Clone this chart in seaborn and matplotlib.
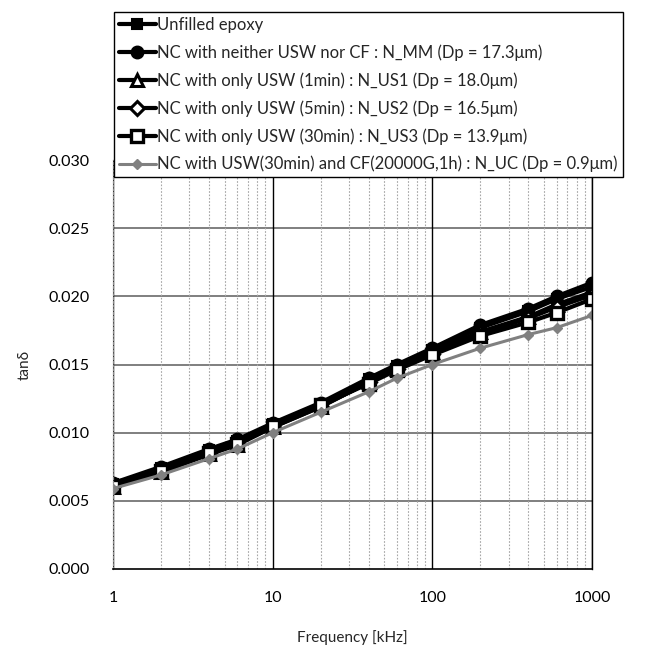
import matplotlib
matplotlib.use("Agg")
import matplotlib.pyplot as plt
import seaborn as sns
from matplotlib.ticker import FixedLocator, LogLocator, NullFormatter, FuncFormatter

sns.set_theme(style="white")
plt.rcParams["font.family"] = ["Lato", "DejaVu Sans"]

# Frequency sweep [kHz]
freq = [1, 2, 4, 6, 10, 20, 40, 60, 100, 200, 400, 600, 1000]

# Dielectric loss tangent for each sample
unfilled_epoxy = [0.0062, 0.0074, 0.0087, 0.0094, 0.0106, 0.0121, 0.0139, 0.0149, 0.0161, 0.0177, 0.0189, 0.0198, 0.0207]
n_mm = [0.0063, 0.0075, 0.0088, 0.0095, 0.0107, 0.0122, 0.0140, 0.0150, 0.0162, 0.0179, 0.0191, 0.0200, 0.0210]
n_us1 = [0.0060, 0.0071, 0.0084, 0.0091, 0.0104, 0.0119, 0.0137, 0.0147, 0.0159, 0.0174, 0.0185, 0.0194, 0.0203]
n_us2 = [0.0061, 0.0072, 0.0085, 0.0092, 0.0104, 0.0119, 0.0137, 0.0147, 0.0158, 0.0173, 0.0184, 0.0192, 0.0201]
n_us3 = [0.0061, 0.0072, 0.0085, 0.0092, 0.0105, 0.0120, 0.0136, 0.0146, 0.0157, 0.0171, 0.0181, 0.0188, 0.0198]
n_uc = [0.0059, 0.0069, 0.0081, 0.0088, 0.0100, 0.0115, 0.0130, 0.0140, 0.0150, 0.0162, 0.0172, 0.0177, 0.0186]

labels = [
    "Unfilled epoxy",
    "NC with neither USW nor CF : N_MM (Dp = 17.3\u03bcm)",
    "NC with only USW (1min) : N_US1 (Dp = 18.0\u03bcm)",
    "NC with only USW (5min) : N_US2 (Dp = 16.5\u03bcm)",
    "NC with only USW (30min) : N_US3 (Dp = 13.9\u03bcm)",
    "NC with USW(30min) and CF(20000G,1h) : N_UC (Dp = 0.9\u03bcm)",
]
y_ticks = [0.000, 0.005, 0.010, 0.015, 0.020, 0.025, 0.030]
x_ticks = [1, 10, 100, 1000]

series = [unfilled_epoxy, n_mm, n_us1, n_us2, n_us3, n_uc]
styles = [
    dict(marker="s", color="black", markerfacecolor="black", markeredgecolor="black", markersize=7.5, markeredgewidth=1.5, linewidth=3.0),
    dict(marker="o", color="black", markerfacecolor="black", markeredgecolor="black", markersize=8.5, markeredgewidth=1.5, linewidth=3.0),
    dict(marker="^", color="black", markerfacecolor="white", markeredgecolor="black", markersize=8.5, markeredgewidth=2.2, linewidth=3.0),
    dict(marker="D", color="black", markerfacecolor="white", markeredgecolor="black", markersize=7, markeredgewidth=2.2, linewidth=3.0),
    dict(marker="s", color="black", markerfacecolor="white", markeredgecolor="black", markersize=8, markeredgewidth=2.4, linewidth=3.0),
    dict(marker="D", color="#808080", markerfacecolor="#808080", markeredgecolor="#808080", markersize=5.5, markeredgewidth=1.0, linewidth=2.2),
]

fig = plt.figure(figsize=(6.57, 6.48), dpi=100)
ax = fig.add_axes([113 / 657, 1 - 569 / 648, (592 - 113) / 657, (569 - 160) / 648])

for vals, lab, st in zip(series, labels, styles):
    sns.lineplot(x=freq, y=vals, ax=ax, label=lab, legend=False, **st)

ax.set_xscale("log")
ax.set_xlim(1, 1000)
ax.set_ylim(0, 0.030)
ax.xaxis.set_major_locator(FixedLocator(x_ticks))
ax.xaxis.set_major_formatter(FuncFormatter(lambda v, p: f"{v:g}"))
ax.xaxis.set_minor_locator(LogLocator(base=10, subs=range(2, 10)))
ax.xaxis.set_minor_formatter(NullFormatter())
ax.yaxis.set_major_locator(FixedLocator(y_ticks))
ax.yaxis.set_major_formatter(FuncFormatter(lambda v, p: f"{v:.3f}"))

ax.grid(False)
ax.set_axisbelow(True)
for yv in y_ticks[1:-1]:
    ax.axhline(yv, color="#7f7f7f", linewidth=1.4, zorder=0.5)
ax.grid(True, which="minor", axis="x", color="#a6a6a6", linestyle=(0, (1.5, 1.5)), linewidth=0.8)
ax.grid(True, which="major", axis="x", color="black", linewidth=1.0)

ax.spines["top"].set_visible(False)
ax.spines["right"].set_color("black")
ax.spines["right"].set_linewidth(1.0)
ax.spines["bottom"].set_color("black")
ax.spines["bottom"].set_linewidth(1.2)
ax.spines["left"].set_color("#8c8c8c")
ax.spines["left"].set_linestyle((0, (1.5, 1.5)))
ax.spines["left"].set_linewidth(0.9)

ax.tick_params(axis="both", which="both", length=0, labelsize=11.5, colors="black")
ax.tick_params(axis="y", pad=17)
ax.tick_params(axis="x", pad=16)

ax.set_xlabel("Frequency [kHz]", fontsize=11, labelpad=18)
ax.set_ylabel("tan\u03b4", fontsize=11, labelpad=12)

handles, labs = ax.get_legend_handles_labels()
leg = fig.legend(
    handles, labs,
    loc="upper left",
    bbox_to_anchor=(114 / 657, 1 - 12 / 648),
    frameon=True,
    fancybox=False,
    framealpha=1,
    edgecolor="black",
    fontsize=12,
    handlelength=2.2,
    handletextpad=0.1,
    labelspacing=0.68,
    borderpad=0.3,
    borderaxespad=0,
)
leg.get_frame().set_linewidth(1.0)
leg.set_zorder(10)

fig.savefig("out.png", dpi=100, facecolor="white")
